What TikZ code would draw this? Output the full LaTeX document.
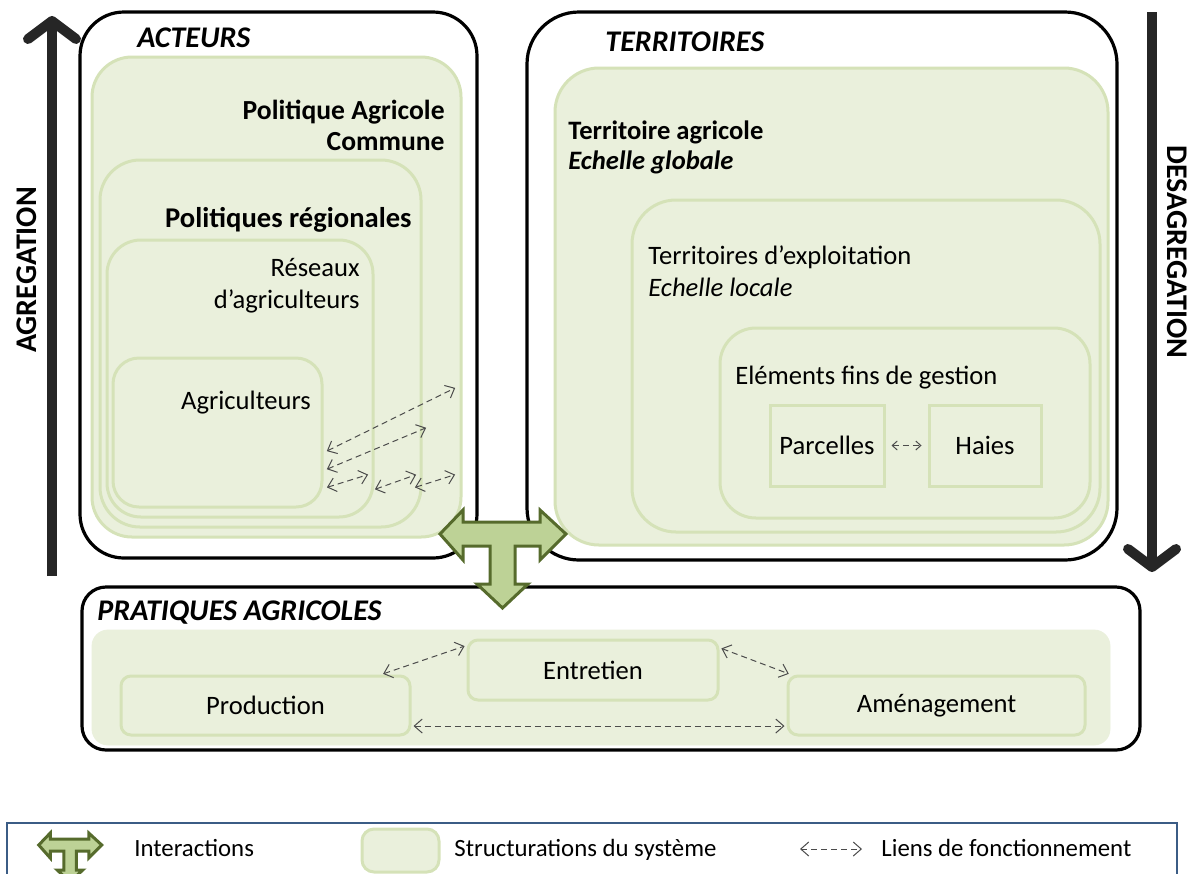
\documentclass[tikz,border=0pt]{standalone}
\usepackage{fontspec}
\setmainfont{Carlito}
\usepackage{tikz}
\usetikzlibrary{arrows.meta,positioning,calc}
\definecolor{vertfond}{HTML}{EAF0DC}
\definecolor{vertbord}{HTML}{D5E2B8}
\definecolor{vertT}{HTML}{BDD296}
\definecolor{vertfonce}{HTML}{566B2C}
\definecolor{grisfl}{HTML}{262626}
\definecolor{bleuleg}{HTML}{3B5C85}
\newcommand{\policecorps}{\fontsize{13.3}{15.5}\selectfont}
\newcommand{\policetitre}{\fontsize{15}{18}\selectfont\bfseries}
\newcommand{\policeleg}{\fontsize{12.4}{14}\selectfont}
\newcommand{\formeT}[2]{\draw[inter, shift={#1}, scale=#2] (-62.5,0) -- (-39.5,-24) -- (-39.5,-12) -- (37.5,-12) -- (37.5,-24) -- (63.5,0) -- (37.5,26) -- (37.5,12) -- (12.5,12) -- (12.5,50) -- (25.5,50) -- (0,74) -- (-25.5,50) -- (-12.5,50) -- (-12.5,12) -- (-39.5,12) -- (-39.5,26) -- cycle;}
\tikzset{x=0.5pt, y=-0.5pt}
\tikzset{cadre/.style={draw=black, line width=1.6pt, fill=white, rounded corners=#1}}
\tikzset{niv/.style={draw=vertbord, line width=1.5pt, fill=vertfond, rounded corners=#1}}
\tikzset{bloc/.style={niv=5pt, inner sep=0pt}}
\tikzset{carre/.style={draw=vertbord, line width=1.5pt, fill=vertfond, inner sep=0pt}}
\tikzset{inter/.style={draw=vertfonce, fill=vertT, line width=1.5pt, line join=miter}}
\tikzset{lien/.style={densely dashed, line width=0.5pt, draw=black!70, <->, >={Straight Barb[length=4pt,width=7pt]}, shorten >=1pt, shorten <=1pt}}
\tikzset{grosse/.style={line width=5pt, draw=grisfl, -{Straight Barb[length=9pt,width=24pt,round]}}}
\tikzstyle{etiq}=[inner sep=0pt]
\tikzstyle{titre}=[inner sep=0pt, font=\policetitre\itshape]

\begin{document}
\begin{tikzpicture}[font=\policecorps]
\useasboundingbox (0,0) rectangle (1192,873);
% axes
\coordinate (agbas) at (52,576);
\coordinate (aghaut) at (52,16);
\draw[grosse] (agbas) -- (aghaut);
\node[etiq, rotate=90, font=\policetitre] (agreg) at (27,270) {AGREGATION};
\coordinate (deshaut) at (1152,12);
\coordinate (desbas) at (1152,572);
\draw[grosse] (deshaut) -- (desbas);
\node[etiq, rotate=-90, font=\policetitre] (desag) at (1177,252) {DESAGREGATION};
% acteurs
\draw[cadre=22pt] (80,12) rectangle (477,558);
\node[titre, anchor=base west] (acteurs) at (137,47) {ACTEURS};
\draw[niv=20pt] (92,57) rectangle (461,537);
\draw[niv=20pt] (100,160) rectangle (421,527);
\draw[niv=17pt] (107,240) rectangle (373,517);
\draw[niv=13pt] (113,358) rectangle (322,507);
\node[etiq, anchor=base east, font=\fontsize{13.8}{16}\selectfont\bfseries] (pac1) at (445,119) {Politique Agricole};
\node[etiq, below=15.5pt of pac1.base east, anchor=base east, font=\fontsize{13.8}{16}\selectfont\bfseries] (pac2) {Commune};
\node[etiq, anchor=base east, font=\fontsize{14.3}{17}\selectfont\bfseries] (region) at (412,227) {Politiques régionales};
\node[etiq, anchor=base east] (res1) at (360,276) {Réseaux};
\node[etiq, below=16pt of res1.base east, anchor=base east] (res2) {d’agriculteurs};
\node[etiq, anchor=base] (agri) at (246,409) {Agriculteurs};
\coordinate (a1) at (325,452); \coordinate (b1) at (457,387);
\coordinate (a2) at (325,470); \coordinate (b2) at (428,427);
\coordinate (a3) at (325,488); \coordinate (b3) at (370,474);
\coordinate (a4) at (373,490); \coordinate (b4) at (418,474);
\coordinate (a5) at (413,488); \coordinate (b5) at (457,474);
\draw[lien] (a1) -- (b1);
\draw[lien] (a2) -- (b2);
\draw[lien] (a3) -- (b3);
\draw[lien] (a4) -- (b4);
\draw[lien] (a5) -- (b5);
% territoires
\draw[cadre=26pt] (527,12) rectangle (1117,560);
\node[titre, anchor=base west] (territ) at (605,51) {TERRITOIRES};
\draw[niv=22pt] (555,68) rectangle (1108,545);
\draw[niv=22pt] (632,200) rectangle (1100,532);
\draw[niv=18pt] (720,328) rectangle (1090,518);
\node[etiq, anchor=base west, font=\policecorps\bfseries] (tagri1) at (568,139) {Territoire agricole};
\node[etiq, below=15pt of tagri1.base west, anchor=base west, font=\policecorps\bfseries\itshape] (tagri2) {Echelle globale};
\node[etiq, anchor=base west] (texpl1) at (648,264) {Territoires d’exploitation};
\node[etiq, below=16pt of texpl1.base west, anchor=base west, font=\policecorps\itshape] (texpl2) {Echelle locale};
\node[etiq, anchor=base west] (elem) at (735,384) {Eléments fins de gestion};
\node[carre, minimum width=57pt, minimum height=40.5pt] (parc) at (827,445.5) {Parcelles};
\node[carre, minimum width=56pt, minimum height=40.5pt] (haie) at (985,445.5) {Haies};
\draw[lien, >={Straight Barb[length=2.5pt,width=4.5pt]}, shorten >=3pt, shorten <=3pt] (parc) -- (haie);
% pratiques
\draw[cadre=12pt] (82,587) rectangle (1140,750);
\draw[fill=vertfond, draw=vertfond, rounded corners=8pt] (92,630) rectangle (1110,745);
\node[titre, anchor=base west] (prat) at (97,620) {PRATIQUES AGRICOLES};
\node[bloc, minimum width=144.5pt, minimum height=29.5pt] (prod) at (265.5,705.5) {Production};
\node[bloc, minimum width=125pt, minimum height=30pt] (entr) at (593,670) {Entretien};
\node[bloc, minimum width=148.5pt, minimum height=29.5pt] (amen) at (936.5,705.5) {Aménagement};
\draw[lien] (prod.15) -- (entr.169);
\draw[lien] (entr.10) -- (amen.168);
\draw[lien] (prod.-8) -- (prod.-8 -| amen.west);
% interactions
\formeT{(502.5,534)}{1}
% legende
\draw[draw=bleuleg, line width=0.8pt] (7,823) rectangle (1177,885);
\formeT{(70,845)}{0.5}
\node[etiq, anchor=base west, font=\policeleg] (linter) at (134,856) {Interactions};
\draw[niv=6pt] (362,829) rectangle (439,872);
\node[etiq, anchor=base west, font=\policeleg] (lstruct) at (454,856) {Structurations du système};
\coordinate (lg1) at (798,849); \coordinate (lg2) at (864,849);
\draw[lien] (lg1) -- (lg2);
\node[etiq, anchor=base west, font=\policeleg] (lliens) at (881,856) {Liens de fonctionnement};
\end{tikzpicture}
\end{document}
